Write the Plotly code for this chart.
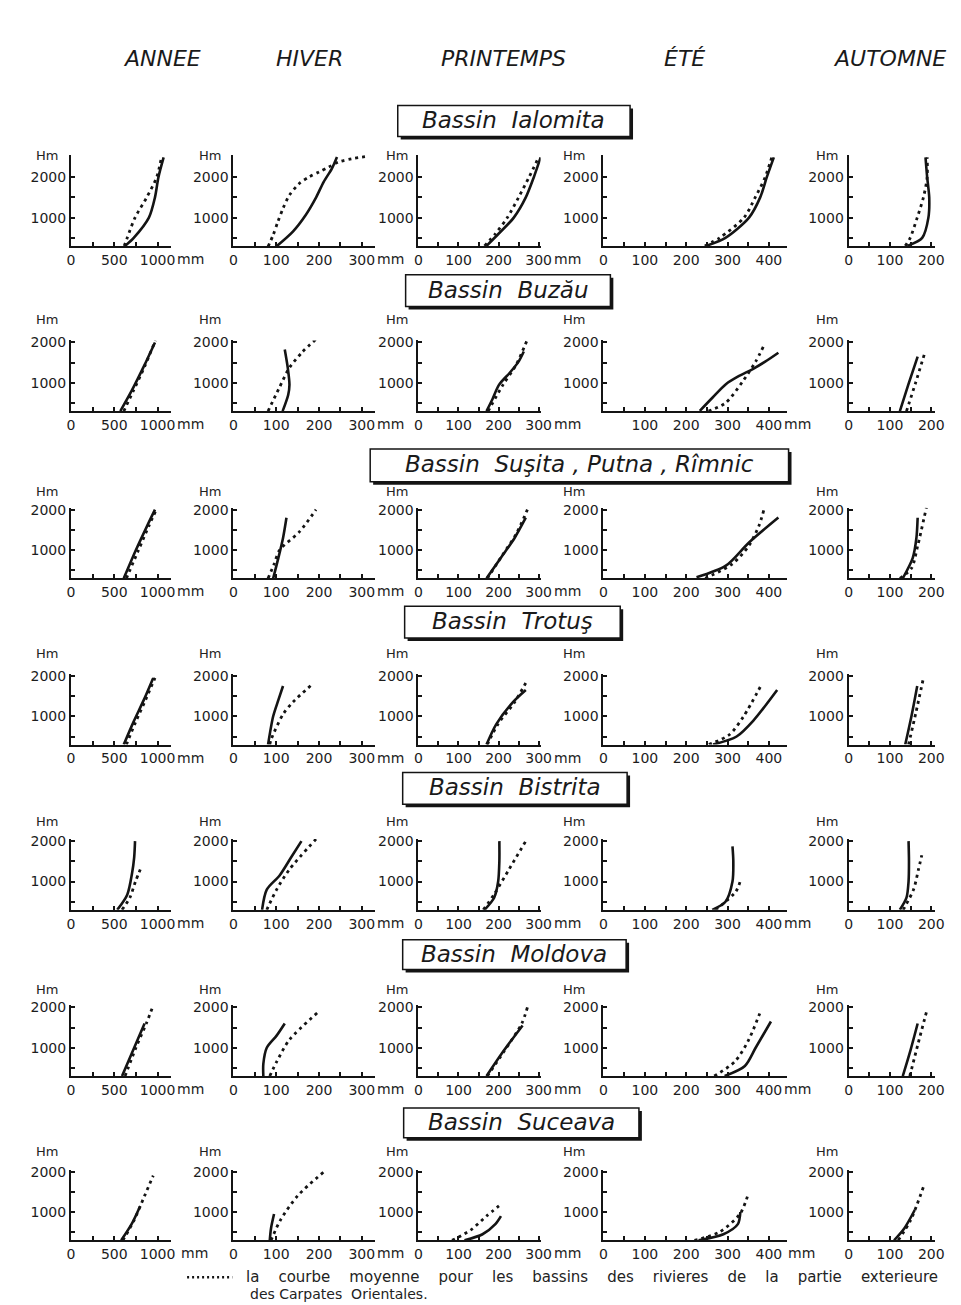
import plotly.graph_objects as go

W, H = 961, 1305

SEASONS = ["ANNEE", "HIVER", "PRINTEMPS", "ÉTÉ", "AUTOMNE"]
SEASON_X = [161, 310, 507, 691, 900]

BASINS = [
    "Bassin  Ialomita",
    "Bassin  Buzău",
    "Bassin  Suşita , Putna , Rîmnic",
    "Bassin  Trotuş",
    "Bassin  Bistrita",
    "Bassin  Moldova",
    "Bassin  Suceava",
]

# Each curve: (precipitation in mm, altitude in Hm), one per season column.
# Solid line = basin curve, dotted line = mean curve of the outer Carpathian basins.
ialomita_solid = [
    ([625, 725, 900, 970, 1010, 1070], [300, 500, 1000, 1500, 2000, 2490]),
    ([100, 139, 169, 192, 211, 230, 242], [283, 653, 1064, 1475, 1885, 2213, 2500]),
    ([170, 200, 238, 268, 288, 305], [300, 600, 1000, 1500, 2000, 2490]),
    ([248, 295, 352, 379, 395, 412], [300, 500, 1000, 1500, 2000, 2490]),
    ([142, 178, 193, 195, 190, 186], [300, 500, 1000, 1500, 2000, 2490]),
]
ialomita_mean = [
    ([615, 650, 740, 875, 990, 1045], [300, 500, 1000, 1500, 2000, 2490]),
    ([81, 93, 104, 116, 131, 154, 177, 200, 223, 246, 277, 315],
     [283, 571, 900, 1229, 1557, 1844, 2008, 2131, 2254, 2377, 2459, 2517]),
    ([165, 192, 222, 250, 276, 300], [300, 600, 1000, 1500, 2000, 2490]),
    ([245, 281, 340, 367, 391, 407], [300, 500, 1000, 1500, 2000, 2490]),
    ([137, 149, 166, 181, 190, 190], [300, 500, 1000, 1500, 2000, 2490]),
]

buzau_solid = [
    ([570, 700, 840, 970], [300, 800, 1400, 2000]),
    ([115, 128, 131, 127, 120], [300, 700, 950, 1375, 1825]),
    ([170, 185, 201, 228, 250, 263], [300, 600, 950, 1250, 1525, 1775]),
    ([233, 264, 296, 328, 360, 391, 423], [308, 638, 966, 1170, 1335, 1524, 1746]),
    ([124, 145, 167], [300, 975, 1650]),
]
buzau_mean = [
    ([610, 720, 850, 975], [300, 800, 1400, 2050]),
    ([81, 106, 131, 160, 193], [300, 850, 1375, 1750, 2080]),
    ([174, 211, 243, 272], [300, 950, 1430, 2075]),
    ([254, 295, 336, 368, 388], [300, 500, 1025, 1525, 1925]),
    ([140, 162, 183], [300, 1000, 1700]),
]

susita_solid = [
    ([610, 750, 880, 970], [300, 1000, 1600, 2000]),
    ([93, 105, 116, 124], [300, 800, 1300, 1800]),
    ([170, 205, 240, 268], [300, 800, 1300, 1800]),
    ([225, 296, 352, 423], [325, 613, 1187, 1803]),
    ([131, 155, 164, 167], [300, 800, 1300, 1800]),
]
susita_mean = [
    ([640, 780, 900, 985], [300, 1000, 1600, 2000]),
    ([81, 95, 108, 154, 193], [300, 650, 1000, 1450, 2000]),
    ([172, 208, 244, 272], [300, 850, 1400, 2000]),
    ([246, 312, 351, 376, 388], [300, 660, 1100, 1600, 2000]),
    ([124, 152, 167, 188], [300, 550, 1100, 2050]),
]

trotus_solid = [
    ([610, 720, 840, 950], [300, 850, 1400, 1950]),
    ([81, 93, 105, 116], [300, 1000, 1400, 1750]),
    ([170, 194, 236, 268], [300, 800, 1350, 1650]),
    ([265, 322, 363, 420], [300, 500, 900, 1650]),
    ([137, 152, 166], [300, 1000, 1750]),
]
trotus_mean = [
    ([640, 745, 860, 970], [300, 850, 1400, 1950]),
    ([85, 89, 116, 139, 183], [300, 450, 1050, 1350, 1780]),
    ([172, 198, 240, 272], [300, 800, 1350, 1900]),
    ([255, 305, 339, 383], [300, 550, 1000, 1800]),
    ([145, 163, 181], [300, 1100, 1950]),
]

bistrita_solid = [
    ([535, 650, 705, 730, 740], [300, 675, 1200, 1600, 2000]),
    ([67, 78, 108, 135, 159], [300, 800, 1150, 1600, 2000]),
    ([165, 189, 199, 202, 202], [300, 600, 1000, 1500, 2000]),
    ([263, 295, 312, 314, 312], [300, 500, 1000, 1500, 1870]),
    ([124, 140, 145, 146, 145], [300, 600, 1000, 1500, 2000]),
]
bistrita_mean = [
    ([590, 680, 745, 820], [300, 600, 1000, 1400]),
    ([78, 101, 131, 193], [300, 800, 1300, 2050]),
    ([162, 190, 226, 268], [300, 700, 1300, 2000]),
    ([271, 320, 332], [300, 750, 1050]),
    ([132, 157, 169, 177], [300, 800, 1300, 1650]),
]

moldova_solid = [
    ([590, 720, 850], [300, 950, 1600]),
    ([70, 70, 78, 101, 120], [300, 600, 1000, 1300, 1600]),
    ([170, 211, 260], [300, 900, 1550]),
    ([293, 342, 368, 405], [300, 550, 1000, 1650]),
    ([131, 150, 167], [300, 950, 1600]),
]
moldova_mean = [
    ([625, 750, 870, 950], [300, 1000, 1600, 2050]),
    ([85, 101, 131, 200], [300, 650, 1200, 1900]),
    ([172, 213, 258, 272], [300, 900, 1600, 2000]),
    ([268, 317, 349, 378], [300, 650, 1150, 1850]),
    ([148, 168, 190], [300, 1100, 1950]),
]

suceava_solid = [
    ([580, 700, 800], [300, 700, 1150]),
    ([85, 88, 95], [300, 600, 950]),
    ([115, 160, 192, 206], [300, 450, 700, 900]),
    ([230, 290, 325, 331], [300, 450, 700, 1000]),
    ([110, 135, 160], [300, 600, 1050]),
]
suceava_mean = [
    ([600, 730, 850, 950], [300, 800, 1400, 1900]),
    ([88, 110, 150, 212], [300, 800, 1400, 2000]),
    ([84, 130, 170, 201], [300, 550, 900, 1150]),
    ([220, 280, 330, 348], [300, 500, 950, 1380]),
    ([120, 150, 182], [300, 800, 1650]),
]

SOLID = [ialomita_solid, buzau_solid, susita_solid, trotus_solid,
         bistrita_solid, moldova_solid, suceava_solid]
MEAN = [ialomita_mean, buzau_mean, susita_mean, trotus_mean,
        bistrita_mean, moldova_mean, suceava_mean]

# x tick values and labels per season column
X_TICKVALS = [
    [0, 250, 500, 750, 1000],
    [0, 50, 100, 150, 200, 250, 300],
    [0, 50, 100, 150, 200, 250, 300],
    [0, 50, 100, 150, 200, 250, 300, 350, 400],
    [0, 50, 100, 150, 200],
]
X_TICKTEXT = [
    ["0", "", "500", "", "1000"],
    ["0", "", "100", "", "200", "", "300"],
    ["0", "", "100", "", "200", "", "300"],
    ["0", "", "100", "", "200", "", "300", "", "400"],
    ["0", "", "100", "", "200"],
]
Y_TICKVALS = [500, 1000, 1500, 2000]
Y_TICKTEXT = ["", "1000", "", "2000"]

# page geometry (pixels)
ROW_BASE = [241, 407, 575, 742, 908, 1075, 1240]
ROW_YMAX = [2550, 2050, 2050, 2050, 2050, 2050, 2050]
HM_DY = [-22, -23, -18, -22, -20, -18, -20]
Y0 = 300
PX_PER_HM = 0.0406
COL_X0 = [68, 233, 421, 609, 858]
COL_PX_PER_MM = [0.088, 0.435, 0.407, 0.42, 0.42]
COL_XMAX = [1160, 330, 305, 445, 210]
HM_DX = [-24, -24, -22, -30, -22]
MM_ROWS = [
    [0, 1, 2, 3, 4, 5, 6],
    [0, 1, 2, 3, 4, 5, 6],
    [0, 1, 2, 3, 4, 5, 6],
    [1, 4, 5, 6],
    [],
]
TITLE_BOX = [
    (400, 100, 636, 131),
    (408, 270, 616, 302),
    (372, 445, 797, 478),
    (407, 603, 626, 635),
    (405, 770, 633, 802),
    (405, 938, 632, 968),
    (406, 1107, 645, 1137),
]

INK = "#141414"
TICK_FONT = dict(family="DejaVu Sans", size=14, color="#1c1c1c")


def px(x):
    return x / W


def py(y):
    return 1 - y / H


fig = go.Figure()
layout = {}
annotations = []
shapes = []

k = 0
for r in range(7):
    yb = ROW_BASE[r]
    ytop = yb - (ROW_YMAX[r] - Y0) * PX_PER_HM
    y2000 = yb - (2000 - Y0) * PX_PER_HM
    for c in range(5):
        k += 1
        xa = "x" if k == 1 else f"x{k}"
        ya = "y" if k == 1 else f"y{k}"
        x0 = COL_X0[c]
        x1 = x0 + COL_XMAX[c] * COL_PX_PER_MM[c]
        ticktext = list(X_TICKTEXT[c])
        if r == 1 and c == 3:
            ticktext[0] = ""
        layout["xaxis" if k == 1 else f"xaxis{k}"] = dict(
            domain=[px(x0), px(x1)], range=[0, COL_XMAX[c]], anchor=ya,
            showline=True, linecolor=INK, linewidth=2, showgrid=False,
            zeroline=False, ticks="inside", ticklen=4, tickwidth=1.5,
            tickcolor=INK, tickvals=X_TICKVALS[c], ticktext=ticktext,
            tickfont=TICK_FONT, fixedrange=True,
        )
        layout["yaxis" if k == 1 else f"yaxis{k}"] = dict(
            domain=[py(yb), py(ytop)], range=[Y0, ROW_YMAX[r]], anchor=xa,
            showline=True, linecolor=INK, linewidth=2, showgrid=False,
            zeroline=False, ticks="inside", ticklen=4, tickwidth=1.5,
            tickcolor=INK, tickvals=Y_TICKVALS, ticktext=Y_TICKTEXT,
            tickfont=TICK_FONT, fixedrange=True,
        )
        sx, sy = SOLID[r][c]
        fig.add_trace(go.Scatter(
            x=sx, y=sy, xaxis=xa, yaxis=ya, mode="lines",
            line=dict(color=INK, width=2.6, shape="spline", smoothing=0.8),
            showlegend=False, hoverinfo="skip"))
        mx, my = MEAN[r][c]
        fig.add_trace(go.Scatter(
            x=mx, y=my, xaxis=xa, yaxis=ya, mode="lines",
            line=dict(color=INK, width=2.8, dash="3px,4px", shape="spline",
                      smoothing=0.8),
            showlegend=False, hoverinfo="skip"))
        # "Hm" unit label above the altitude axis
        annotations.append(dict(
            x=px(x0 + HM_DX[c]), y=py(y2000 + HM_DY[r]), xref="paper", yref="paper",
            text="Hm", showarrow=False, xanchor="center", yanchor="middle",
            font=dict(family="DejaVu Sans", size=13, color="#222")))
        # "mm" unit after the last labelled tick
        if r in MM_ROWS[c]:
            last = [v for v, t in zip(X_TICKVALS[c], X_TICKTEXT[c]) if t][-1]
            lab = str(last)
            xr = x0 + last * COL_PX_PER_MM[c] + len(lab) * 0.636 * 14 / 2
            if r == 6 and c in (0, 3):
                xr += 4
            annotations.append(dict(
                x=px(xr), y=py(yb + 13), xref="paper", yref="paper",
                text="mm", showarrow=False, xanchor="left", yanchor="middle",
                font=TICK_FONT))

# season headers
for name, xc in zip(SEASONS, SEASON_X):
    annotations.append(dict(
        x=px(xc), y=py(53), xref="paper", yref="paper",
        text=f"<i>{name}</i>", showarrow=False, xanchor="center",
        yanchor="middle",
        font=dict(family="DejaVu Sans", size=22, color="#1a1a1a")))

# basin title boxes with a drop shadow
for name, (bx0, by0, bx1, by1) in zip(BASINS, TITLE_BOX):
    shapes.append(dict(type="rect", xref="paper", yref="paper",
                       x0=px(bx0 + 3), x1=px(bx1 + 3), y0=py(by1 + 3), y1=py(by0 + 3),
                       fillcolor=INK, line=dict(width=0), layer="below"))
    shapes.append(dict(type="rect", xref="paper", yref="paper",
                       x0=px(bx0), x1=px(bx1), y0=py(by1), y1=py(by0),
                       fillcolor="white", line=dict(color=INK, width=1.5),
                       layer="below"))
    annotations.append(dict(
        x=px((bx0 + bx1) / 2), y=py((by0 + by1) / 2 - 1), xref="paper", yref="paper",
        text="<i>" + name.replace("  ", "\u00a0\u00a0") + "</i>", showarrow=False,
        xanchor="center", yanchor="middle",
        font=dict(family="DejaVu Sans", size=23, color="#1a1a1a")))

# legend note at the bottom
GAP = "\u00a0\u00a0\u00a0\u00a0"
note_words = ["la", "courbe", "moyenne", "pour", "les", "bassins", "des",
              "rivieres", "de", "la", "partie", "exterieure"]
shapes.append(dict(type="line", xref="paper", yref="paper",
                   x0=px(186), x1=px(232), y0=py(1277), y1=py(1277),
                   line=dict(color=INK, width=2.5, dash="2px,3px")))
annotations.append(dict(
    x=px(244), y=py(1277), xref="paper", yref="paper",
    text=GAP.join(note_words),
    showarrow=False, xanchor="left", yanchor="middle",
    font=dict(family="DejaVu Sans", size=15, color="#222")))
annotations.append(dict(
    x=px(248), y=py(1294), xref="paper", yref="paper",
    text="des\u00a0Carpates\u00a0\u00a0Orientales.",
    showarrow=False, xanchor="left", yanchor="middle",
    font=dict(family="DejaVu Sans", size=14, color="#222")))

fig.update_layout(
    width=W, height=H, margin=dict(l=0, r=0, t=0, b=0),
    paper_bgcolor="white", plot_bgcolor="rgba(0,0,0,0)",
    showlegend=False, annotations=annotations, shapes=shapes, **layout)

fig.write_html("out.html", config={"displayModeBar": False})
